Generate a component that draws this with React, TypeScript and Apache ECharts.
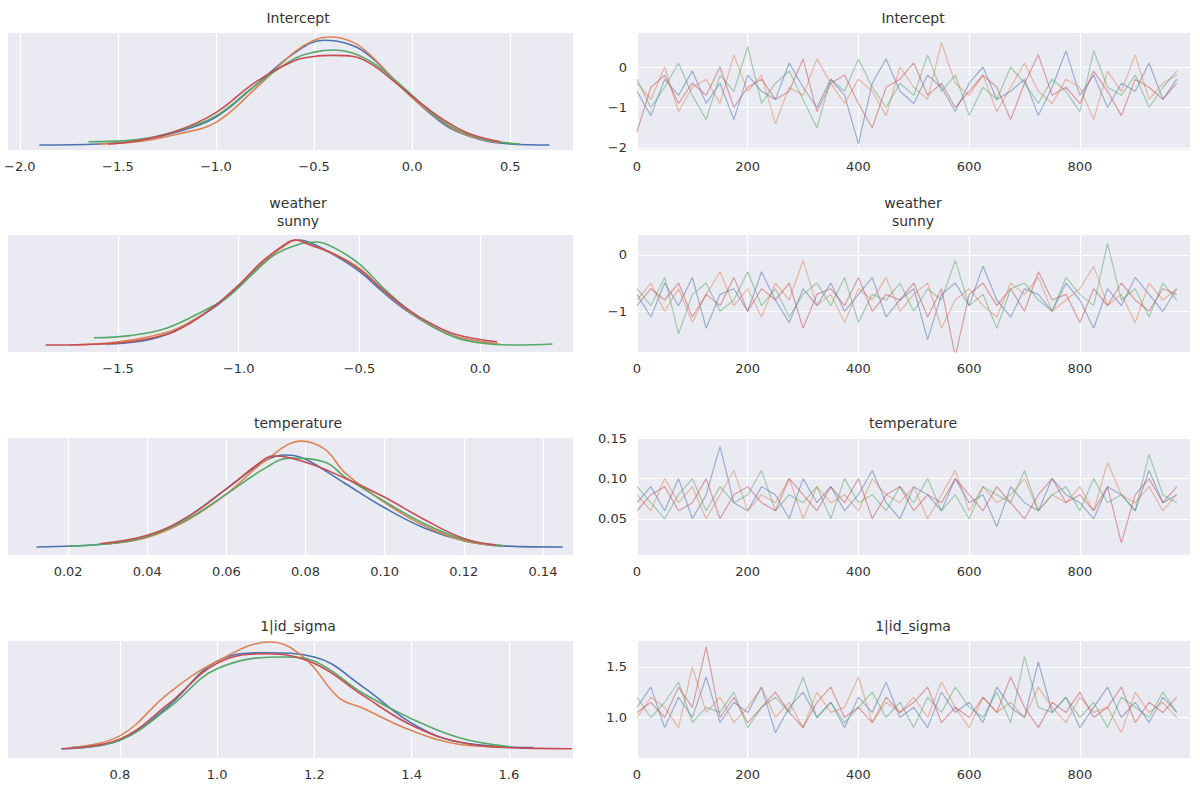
import { useEffect, useRef } from "react";
import * as echarts from "echarts";

const COLORS = ["#4C72B0", "#DD8452", "#55A868", "#C44E52"];
const titles = ["Intercept", "weather\nsunny", "temperature", "1|id_sigma"];

// KDE curves: [value, density] per chain (blue, orange, green, red)
const kdeIntercept = [
  [[-1.9, 0.0], [-1.6, 0.01], [-1.4, 0.04], [-1.2, 0.12], [-1.0, 0.26], [-0.8, 0.55], [-0.6, 0.85], [-0.45, 0.97], [-0.3, 0.92], [-0.2, 0.8], [-0.1, 0.62], [0.0, 0.44], [0.1, 0.28], [0.2, 0.15], [0.35, 0.05], [0.5, 0.01], [0.7, 0.0]],
  [[-1.6, 0.01], [-1.4, 0.03], [-1.2, 0.1], [-1.0, 0.21], [-0.8, 0.52], [-0.6, 0.86], [-0.5, 0.97], [-0.42, 1.0], [-0.3, 0.95], [-0.2, 0.81], [-0.1, 0.62], [0.0, 0.44], [0.1, 0.29], [0.2, 0.16], [0.3, 0.08], [0.45, 0.02]],
  [[-1.65, 0.03], [-1.4, 0.05], [-1.2, 0.13], [-1.0, 0.27], [-0.8, 0.55], [-0.6, 0.8], [-0.5, 0.86], [-0.4, 0.88], [-0.3, 0.85], [-0.2, 0.76], [-0.1, 0.62], [0.0, 0.46], [0.1, 0.3], [0.2, 0.17], [0.35, 0.06], [0.55, 0.01]],
  [[-1.55, 0.01], [-1.4, 0.04], [-1.2, 0.13], [-1.0, 0.3], [-0.8, 0.58], [-0.6, 0.78], [-0.5, 0.82], [-0.4, 0.83], [-0.3, 0.82], [-0.2, 0.74], [-0.1, 0.6], [0.0, 0.45], [0.1, 0.31], [0.2, 0.19], [0.3, 0.1], [0.45, 0.03]],
];
const kdeWeather = [
  [[-1.55, 0.01], [-1.4, 0.04], [-1.3, 0.1], [-1.2, 0.22], [-1.1, 0.36], [-1.0, 0.55], [-0.9, 0.78], [-0.8, 0.97], [-0.75, 1.0], [-0.7, 0.97], [-0.6, 0.85], [-0.5, 0.7], [-0.4, 0.5], [-0.3, 0.32], [-0.2, 0.18], [-0.1, 0.08], [0.05, 0.02]],
  [[-1.7, 0.0], [-1.5, 0.03], [-1.3, 0.12], [-1.2, 0.22], [-1.1, 0.37], [-1.0, 0.57], [-0.9, 0.79], [-0.8, 0.96], [-0.76, 1.0], [-0.7, 0.95], [-0.6, 0.86], [-0.5, 0.73], [-0.4, 0.52], [-0.3, 0.33], [-0.2, 0.18], [-0.1, 0.08], [0.08, 0.01]],
  [[-1.6, 0.07], [-1.45, 0.09], [-1.3, 0.16], [-1.15, 0.32], [-1.05, 0.45], [-0.95, 0.66], [-0.85, 0.86], [-0.75, 0.96], [-0.68, 0.98], [-0.6, 0.92], [-0.5, 0.77], [-0.4, 0.54], [-0.3, 0.34], [-0.2, 0.18], [-0.1, 0.07], [0.0, 0.02], [0.15, 0.0], [0.3, 0.01]],
  [[-1.8, 0.0], [-1.5, 0.02], [-1.3, 0.1], [-1.2, 0.21], [-1.1, 0.37], [-1.0, 0.57], [-0.9, 0.8], [-0.8, 0.97], [-0.77, 1.0], [-0.7, 0.95], [-0.6, 0.86], [-0.5, 0.72], [-0.4, 0.52], [-0.3, 0.34], [-0.2, 0.2], [-0.1, 0.1], [0.07, 0.03]],
];
const kdeTemperature = [
  [[0.012, 0.0], [0.03, 0.03], [0.04, 0.1], [0.05, 0.28], [0.06, 0.55], [0.07, 0.82], [0.075, 0.87], [0.08, 0.83], [0.09, 0.6], [0.1, 0.37], [0.11, 0.18], [0.12, 0.06], [0.13, 0.01], [0.145, 0.0]],
  [[0.03, 0.03], [0.04, 0.09], [0.05, 0.25], [0.06, 0.5], [0.07, 0.82], [0.079, 1.0], [0.085, 0.92], [0.09, 0.7], [0.1, 0.42], [0.11, 0.2], [0.12, 0.06], [0.13, 0.01]],
  [[0.02, 0.01], [0.03, 0.03], [0.04, 0.1], [0.05, 0.26], [0.06, 0.5], [0.07, 0.75], [0.076, 0.84], [0.085, 0.8], [0.09, 0.66], [0.1, 0.43], [0.11, 0.22], [0.12, 0.07], [0.13, 0.01]],
  [[0.028, 0.03], [0.04, 0.11], [0.05, 0.28], [0.06, 0.55], [0.07, 0.84], [0.072, 0.86], [0.08, 0.8], [0.09, 0.65], [0.1, 0.47], [0.11, 0.26], [0.12, 0.08], [0.128, 0.02]],
];
const kdeSigma = [
  [[0.68, 0.0], [0.8, 0.08], [0.9, 0.4], [1.0, 0.82], [1.1, 0.9], [1.2, 0.86], [1.3, 0.58], [1.4, 0.24], [1.5, 0.06], [1.65, 0.01]],
  [[0.7, 0.01], [0.8, 0.12], [0.9, 0.52], [1.0, 0.82], [1.11, 1.0], [1.18, 0.85], [1.25, 0.48], [1.3, 0.38], [1.4, 0.17], [1.5, 0.04], [1.58, 0.02]],
  [[0.7, 0.01], [0.8, 0.08], [0.9, 0.38], [1.0, 0.75], [1.14, 0.86], [1.2, 0.82], [1.3, 0.52], [1.4, 0.28], [1.5, 0.1], [1.6, 0.02]],
  [[0.68, 0.0], [0.8, 0.09], [0.9, 0.42], [1.0, 0.8], [1.1, 0.89], [1.2, 0.8], [1.3, 0.5], [1.4, 0.22], [1.5, 0.06], [1.6, 0.01], [1.73, 0.0]],
];

// Trace values sampled every 25 draws, four chains
const draws = Array.from({ length: 40 }, (_, i) => i * 25);
const traceIntercept = [
  [-0.6, -1.2, -0.3, -0.7, -0.1, -0.9, -0.4, -1.3, -0.2, -0.6, -0.8, 0.1, -0.5, -1.0, -0.3, -0.7, -1.9, -0.4, 0.2, -0.6, -0.9, -0.2, -0.5, -1.1, -0.4, 0.0, -0.8, -0.6, -0.3, -1.2, -0.5, 0.4, -0.7, -0.2, -1.0, -0.4, -0.6, 0.1, -0.8, -0.3],
  [-0.4, -0.8, 0.0, -1.1, -0.5, -0.3, -0.9, 0.3, -0.6, -0.2, -1.4, -0.5, -0.7, 0.2, -0.4, -0.9, -0.3, -0.6, -1.2, 0.0, -0.5, -0.8, 0.6, -0.4, -0.7, -0.2, -1.1, -0.5, 0.1, -0.6, -0.9, -0.3, -0.5, -1.3, -0.1, -0.6, 0.3, -0.8, -0.4, -0.2],
  [-0.3, -1.0, -0.5, 0.1, -0.7, -1.3, -0.2, -0.6, 0.5, -0.9, -0.4, -0.1, -0.8, -1.5, -0.3, -0.6, 0.2, -0.5, -1.0, -0.4, -0.7, 0.3, -0.6, -0.2, -1.2, -0.5, -0.8, 0.0, -0.4, -0.9, -0.3, -0.6, -1.1, 0.4, -0.5, -0.7, -0.2, -1.0, -0.5, -0.1],
  [-1.6, -0.5, -0.2, -0.9, -0.4, -0.7, 0.0, -1.0, -0.5, -0.3, -0.8, -0.6, 0.2, -1.1, -0.4, -0.2, -0.9, -1.5, -0.5, -0.3, 0.1, -0.7, -0.4, -1.0, -0.6, -0.2, -0.5, -1.3, -0.4, 0.3, -0.7, -0.5, -0.9, -0.1, -0.6, -1.2, -0.3, -0.5, -0.8, -0.4],
];
const traceWeather = [
  [-0.7, -1.1, -0.5, -0.9, -0.4, -1.3, -0.7, -0.6, -1.0, -0.3, -0.8, -1.2, -0.6, -0.9, -0.5, -1.0, -0.7, -0.4, -1.1, -0.8, -0.6, -1.5, -0.7, -0.5, -0.9, -0.2, -0.8, -1.1, -0.6, -0.7, -1.0, -0.5, -0.8, -1.3, -0.6, -0.9, -0.4, -0.7, -1.0, -0.6],
  [-0.8, -0.5, -1.0, -0.6, -1.2, -0.7, -0.3, -0.9, -0.6, -1.1, -0.5, -0.8, -0.1, -0.9, -0.7, -1.2, -0.6, -0.8, -0.4, -1.0, -0.7, -0.5, -1.3, -0.8, -0.6, -0.9, -1.1, -0.5, -0.7, -0.4, -1.0, -0.8, -0.6, -0.2, -0.9, -0.7, -1.2, -0.5, -0.8, -0.6],
  [-0.6, -0.9, -0.4, -1.4, -0.7, -0.5, -1.0, -0.8, -0.3, -0.9, -0.6, -1.1, -0.7, -0.5, -0.9, -0.4, -1.2, -0.7, -0.8, -0.5, -1.0, -0.6, -0.8, -0.1, -0.9, -0.7, -1.3, -0.6, -0.5, -0.8, -1.0, -0.4, -0.7, -0.9, 0.2, -0.8, -0.6, -1.1, -0.5, -0.8],
  [-0.9, -0.6, -0.8, -0.5, -1.1, -0.7, -0.9, -0.4, -1.0, -0.6, -0.8, -0.5, -1.3, -0.7, -0.6, -0.9, -0.4, -1.0, -0.7, -0.8, -0.5, -1.1, -0.6, -1.8, -0.7, -0.5, -0.9, -0.6, -1.0, -0.3, -0.8, -0.7, -1.2, -0.6, -0.9, -0.5, -0.8, -1.0, -0.6, -0.7],
];
const traceTemperature = [
  [0.07, 0.09, 0.06, 0.1, 0.05, 0.08, 0.14, 0.07, 0.06, 0.09, 0.08, 0.05, 0.1, 0.07, 0.09, 0.06, 0.08, 0.11, 0.07, 0.05, 0.09, 0.08, 0.06, 0.1, 0.07, 0.08, 0.04, 0.09, 0.07, 0.06, 0.1, 0.08, 0.07, 0.05, 0.09, 0.08, 0.06, 0.11, 0.07, 0.08],
  [0.08, 0.06, 0.1, 0.07, 0.09, 0.05, 0.08, 0.11, 0.06, 0.08, 0.07, 0.1, 0.05, 0.09, 0.07, 0.08, 0.06, 0.1, 0.08, 0.07, 0.09, 0.05, 0.08, 0.11, 0.06, 0.09, 0.07, 0.08, 0.1, 0.06, 0.08, 0.07, 0.09, 0.06, 0.12, 0.08, 0.07, 0.09, 0.06, 0.08],
  [0.09, 0.07, 0.05, 0.08, 0.1, 0.06, 0.09, 0.07, 0.08, 0.11, 0.06, 0.08, 0.07, 0.09, 0.05, 0.1, 0.07, 0.08, 0.06, 0.09, 0.07, 0.1, 0.06, 0.08, 0.05, 0.09, 0.08, 0.07, 0.11, 0.06, 0.08, 0.09, 0.06, 0.1, 0.07, 0.08, 0.06, 0.13, 0.08, 0.07],
  [0.06, 0.08, 0.09, 0.06, 0.07, 0.1, 0.05, 0.08, 0.09, 0.07, 0.06, 0.1, 0.08, 0.06, 0.09, 0.07, 0.1, 0.05, 0.08, 0.09, 0.06, 0.08, 0.07, 0.1, 0.08, 0.06, 0.09, 0.07, 0.05, 0.08, 0.1, 0.07, 0.08, 0.06, 0.09, 0.02, 0.08, 0.1, 0.07, 0.09],
];
const traceSigma = [
  [1.1, 1.3, 0.9, 1.2, 1.0, 1.4, 0.95, 1.15, 1.05, 1.3, 0.85, 1.1, 1.25, 1.0, 1.15, 0.9, 1.2, 1.05, 1.35, 1.0, 1.1, 0.9, 1.25, 1.05, 1.15, 0.95, 1.3, 1.1, 1.0, 1.55, 1.05, 1.2, 0.9, 1.1, 1.3, 1.0, 1.15, 0.95, 1.2, 1.05],
  [1.0, 1.2, 1.1, 0.9, 1.5, 1.05, 1.2, 0.95, 1.1, 1.3, 1.0, 1.15, 0.9, 1.25, 1.05, 1.1, 1.4, 0.95, 1.15, 1.05, 1.2, 1.0, 1.35, 1.1, 0.9, 1.2, 1.05, 1.15, 1.0, 1.3, 1.1, 0.95, 1.2, 1.05, 1.1, 0.85, 1.25, 1.05, 1.15, 1.0],
  [1.2, 1.0, 1.15, 1.35, 0.95, 1.1, 1.05, 1.25, 0.9, 1.1, 1.2, 1.05, 1.4, 1.0, 1.15, 0.95, 1.1, 1.25, 1.0, 1.15, 0.9, 1.2, 1.05, 1.3, 1.1, 1.0, 1.25, 0.95, 1.6, 1.1, 1.05, 1.2, 1.0, 1.15, 0.9, 1.2, 1.1, 1.0, 1.25, 1.05],
  [1.05, 1.15, 1.0, 1.3, 1.1, 1.7, 1.0, 1.2, 0.95, 1.1, 1.25, 1.05, 0.9, 1.15, 1.3, 1.0, 1.1, 0.95, 1.2, 1.05, 1.15, 1.3, 0.95, 1.1, 1.0, 1.2, 1.05, 1.4, 1.1, 0.9, 1.15, 1.05, 1.25, 1.0, 1.1, 1.3, 0.95, 1.15, 1.05, 1.2],
];

const kdes = [kdeIntercept, kdeWeather, kdeTemperature, kdeSigma];
const traces = [traceIntercept, traceWeather, traceTemperature, traceSigma];
const kdeTicks = [[-2.0, -1.5, -1.0, -0.5, 0.0, 0.5], [-1.5, -1.0, -0.5, 0.0], [0.02, 0.04, 0.06, 0.08, 0.1, 0.12, 0.14], [0.8, 1.0, 1.2, 1.4, 1.6]];
const kdeXRange = [[-2.06, 0.82], [-1.956, 0.385], [0.0048, 0.1476], [0.57, 1.732]];
const kdeYRange = [[-0.046, 1.037], [-0.066, 1.047], [-0.076, 1.03], [-0.087, 1.01]];
const traceTicksY = [[-2, -1, 0], [-1, 0], [0.05, 0.1, 0.15], [1.0, 1.5]];
const traceYRange = [[-2.05, 0.84], [-1.72, 0.35], [0.005, 0.1505], [0.6, 1.755]];
const traceTicksX = [0, 200, 400, 600, 800];

const tops = [33, 235, 438, 641];
const H = 117;
const TXT = "#333";
const FONT = "'DejaVu Sans', sans-serif";

const kdeFmt = [(v: number) => v.toFixed(1), (v: number) => v.toFixed(1), (v: number) => v.toFixed(2), (v: number) => v.toFixed(1)];
const trFmt = [(v: number) => v.toFixed(0), (v: number) => v.toFixed(0), (v: number) => v.toFixed(2), (v: number) => v.toFixed(1)];
const minus = (s: string) => s.replace("-", "\u2212");

export default function App() {
  const ref = useRef<HTMLDivElement>(null);
  useEffect(() => {
    if (!ref.current) return;
    const chart = echarts.init(ref.current, undefined, { renderer: "svg" });
    const grids: any[] = [];
    const xAxes: any[] = [];
    const yAxes: any[] = [];
    const series: any[] = [];
    const titleEls: any[] = [];
    const gridLine = { color: "#fff", width: 1.2, type: "solid" };

    for (let r = 0; r < 4; r++) {
      // left KDE
      const gl = grids.length;
      grids.push({ left: 8, width: 565, top: tops[r], height: H, backgroundColor: "#EAEAF2", show: true, borderWidth: 0 });
      xAxes.push({
        type: "value", gridIndex: gl, min: kdeXRange[r][0], max: kdeXRange[r][1],
        axisLine: { show: false }, axisTick: { show: false }, splitLine: { show: false },
        axisLabel: { customValues: kdeTicks[r], color: TXT, fontSize: 13, fontFamily: FONT, margin: 10, formatter: (v: number) => minus(kdeFmt[r](v)) },
      });
      yAxes.push({ type: "value", gridIndex: gl, min: kdeYRange[r][0], max: kdeYRange[r][1], show: false });
      kdes[r].forEach((chain, c) => {
        series.push({
          type: "line", xAxisIndex: gl, yAxisIndex: gl, data: chain, smooth: 0.4, symbol: "none",
          lineStyle: { color: COLORS[c], width: 1.6 }, z: 3,
          markLine: c === 0 ? { silent: true, symbol: "none", label: { show: false }, lineStyle: gridLine, z: 1, data: kdeTicks[r].map(v => ({ xAxis: v })) } : undefined,
        });
      });
      // right trace
      const gr = grids.length;
      grids.push({ left: 637, width: 553, top: tops[r], height: H, backgroundColor: "#EAEAF2", show: true, borderWidth: 0 });
      xAxes.push({
        type: "value", gridIndex: gr, min: 0, max: 999,
        axisLine: { show: false }, axisTick: { show: false }, splitLine: { show: false },
        axisLabel: { customValues: traceTicksX, color: TXT, fontSize: 13, fontFamily: FONT, margin: 10 },
      });
      yAxes.push({
        type: "value", gridIndex: gr, min: traceYRange[r][0], max: traceYRange[r][1],
        axisLine: { show: false }, axisTick: { show: false }, splitLine: { show: false },
        axisLabel: { customValues: traceTicksY[r], color: TXT, fontSize: 13, fontFamily: FONT, margin: 10, formatter: (v: number) => minus(trFmt[r](v)) },
      });
      traces[r].forEach((chain, c) => {
        series.push({
          type: "line", xAxisIndex: gr, yAxisIndex: gr, data: chain.map((v, i) => [draws[i], v]), symbol: "none",
          lineStyle: { color: COLORS[c], width: 1.2, opacity: 0.5 }, z: 3,
          markLine: c === 0 ? {
            silent: true, symbol: "none", label: { show: false }, lineStyle: gridLine, z: 1,
            data: [...traceTicksX.map(v => ({ xAxis: v })), ...traceTicksY[r].map(v => ({ yAxis: v }))],
          } : undefined,
        });
      });
      const ty = r === 1 ? tops[r] - 41 : tops[r] - 24;
      for (const cx of [298, 913]) {
        titleEls.push({
          type: "text", x: cx, y: ty,
          style: { text: titles[r], fill: TXT, fontSize: 14, fontFamily: FONT, align: "center", verticalAlign: "top", lineHeight: 18 },
        });
      }
    }

    chart.setOption({
      animation: false,
      backgroundColor: "#fff",
      grid: grids,
      xAxis: xAxes,
      yAxis: yAxes,
      series,
      graphic: titleEls,
    });
    return () => chart.dispose();
  }, []);
  return <div ref={ref} style={{ position: "fixed", left: 0, top: 0, width: 1200, height: 796 }} />;
}
